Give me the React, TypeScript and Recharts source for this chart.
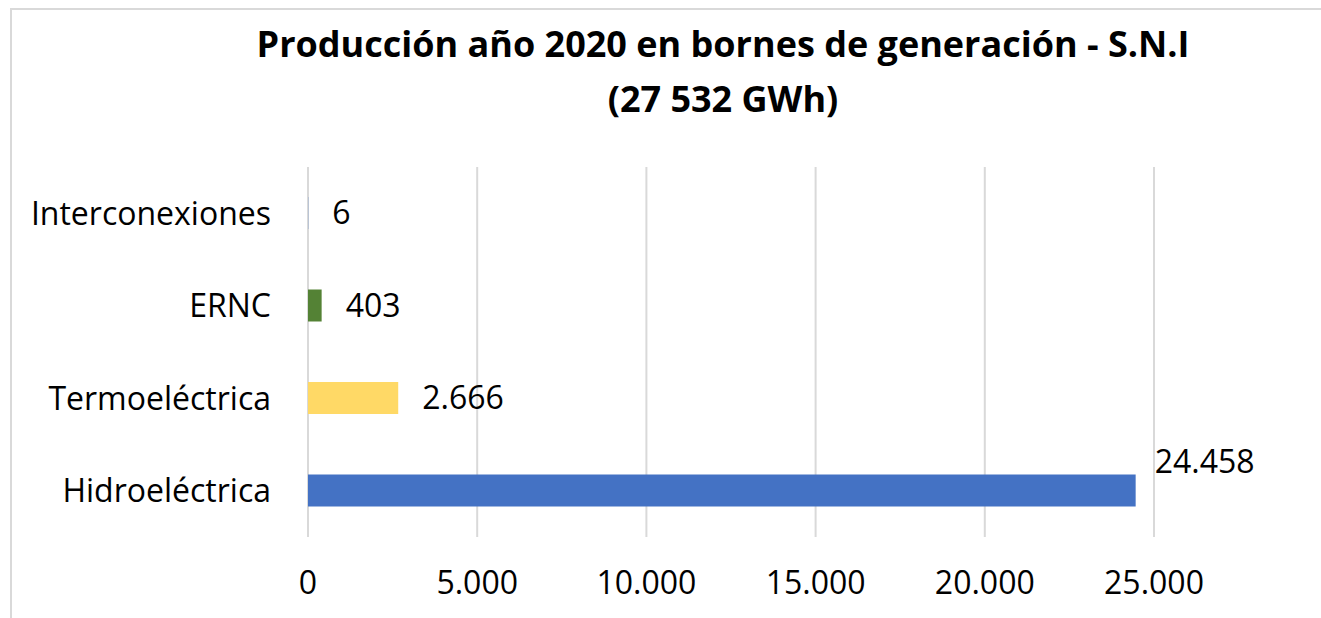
import React from "react";
import { Bar, BarChart, CartesianGrid, Cell, LabelList, XAxis, YAxis } from "recharts";

const categories = ["Interconexiones", "ERNC", "Termoeléctrica", "Hidroeléctrica"];
const values = [6, 403, 2666, 24458];
const colors = ["#4472C4", "#548235", "#FFD966", "#4472C4"];
const xTicks = [0, 5000, 10000, 15000, 20000, 25000];
const titleLines = ["Producción año 2020 en bornes de generación - S.N.I", "(27 532 GWh)"];

const data = categories.map((name, i) => ({ name, value: values[i], color: colors[i] }));

const FONT = "'Open Sans', sans-serif";

// miles con punto, como en el original
const fmt = (v: number) => v.toString().replace(/\B(?=(\d{3})+(?!\d))/g, ".");

function ValueLabel(props: any) {
  const { x, y, width, height, value } = props;
  const end = x + width;
  const cy = y + height / 2;
  // la barra larga lleva la etiqueta encima, como hace Excel cuando no cabe
  if (end > 1100) {
    return (
      <text x={end + 19} y={cy - 29} dy="0.35em" fontSize={32} fontFamily={FONT} fill="#000">
        {fmt(value)}
      </text>
    );
  }
  return (
    <text x={end + 24} y={cy} dy="0.35em" fontSize={32} fontFamily={FONT} fill="#000">
      {fmt(value)}
    </text>
  );
}

export default function App() {
  return (
    <div style={{ position: "relative", width: 1321, height: 618, background: "#fff", overflow: "hidden" }}>
      <style>{"body{margin:0;overflow:hidden}"}</style>
      <div
        style={{
          position: "absolute",
          left: 10,
          top: 8,
          width: 1320,
          height: 620,
          borderLeft: "2px solid #d9d9d9",
          borderTop: "2px solid #d9d9d9",
        }}
      />
      <div
        style={{
          position: "absolute",
          left: 0,
          top: 16,
          width: 1446,
          textAlign: "center",
          fontFamily: FONT,
          fontWeight: 700,
          fontSize: 36,
          lineHeight: "55px",
          color: "#000",
        }}
      >
        {titleLines.map((t) => (
          <div key={t}>{t}</div>
        ))}
      </div>
      <div style={{ position: "absolute", left: 0, top: 0 }}>
        <BarChart
          width={1321}
          height={618}
          data={data}
          layout="vertical"
          margin={{ top: 167, right: 167, bottom: 0, left: 0 }}
          barSize={32}
        >
          <CartesianGrid horizontal={false} stroke="#d9d9d9" strokeWidth={2} />
          <XAxis
            type="number"
            domain={[0, 25000]}
            ticks={xTicks}
            tickFormatter={fmt}
            axisLine={false}
            tickLine={false}
            tickSize={0}
            tickMargin={34}
            height={81}
            tick={{ fontSize: 32, fontFamily: FONT, fill: "#000" }}
          />
          <YAxis
            type="category"
            dataKey="name"
            width={308}
            axisLine={false}
            tickLine={false}
            tickSize={0}
            tickMargin={37}
            tick={{ fontSize: 32, fontFamily: FONT, fill: "#000" }}
          />
          <Bar dataKey="value" isAnimationActive={false}>
            {data.map((d) => (
              <Cell key={d.name} fill={d.color} />
            ))}
            <LabelList dataKey="value" content={ValueLabel} />
          </Bar>
        </BarChart>
      </div>
    </div>
  );
}
